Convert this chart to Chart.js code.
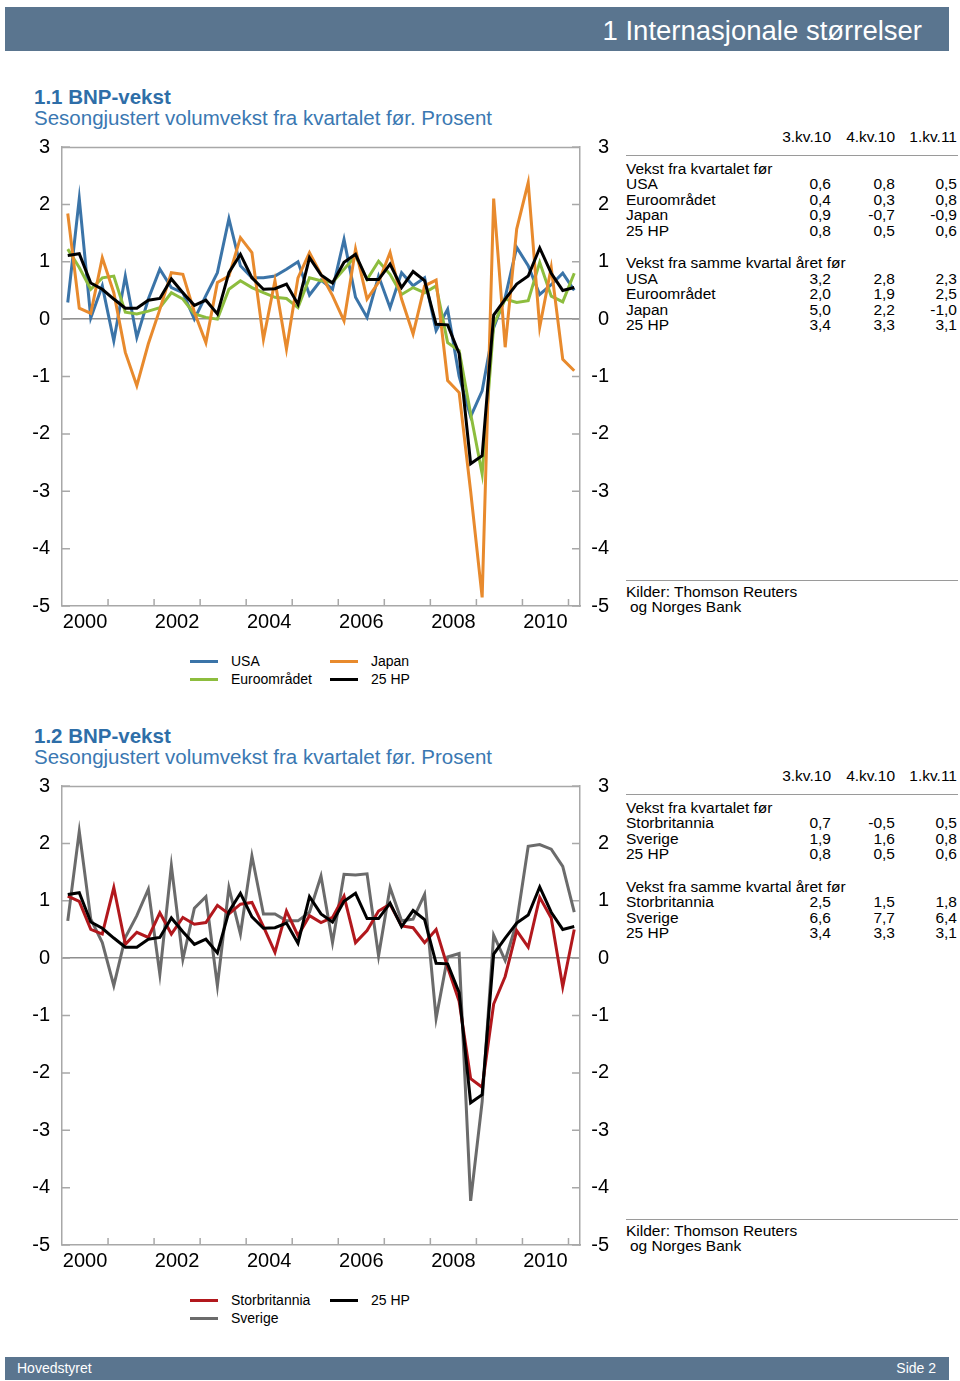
<!DOCTYPE html>
<html><head><meta charset="utf-8">
<script src="https://cdn.jsdelivr.net/npm/chart.js@4.4.1/dist/chart.umd.min.js"></script>
<style>
html,body{margin:0;padding:0}
body{width:960px;height:1381px;position:relative;background:#fff;font-family:"Liberation Sans",Arial,sans-serif;overflow:hidden}
.t{position:absolute;white-space:nowrap}
.bar{position:absolute;left:5px;width:944px;background:#5a758f}
canvas{position:absolute;left:0}
</style></head><body>
<div class="bar" style="top:7px;height:44px"></div>
<div class="bar" style="top:1357px;height:23px"></div>
<div id="layer"></div>
<canvas id="c1" width="620" height="510" style="top:130px"></canvas>
<canvas id="c2" width="620" height="510" style="top:769px"></canvas>
<script>
// ---------- data ----------
const quarters = ['2000K1','2000K2','2000K3','2000K4','2001K1','2001K2','2001K3','2001K4','2002K1','2002K2','2002K3','2002K4','2003K1','2003K2','2003K3','2003K4','2004K1','2004K2','2004K3','2004K4','2005K1','2005K2','2005K3','2005K4','2006K1','2006K2','2006K3','2006K4','2007K1','2007K2','2007K3','2007K4','2008K1','2008K2','2008K3','2008K4','2009K1','2009K2','2009K3','2009K4','2010K1','2010K2','2010K3','2010K4','2011K1'];
const yearLabels = ['2000','2002','2004','2006','2008','2010'];
const yTickValues = [-5,-4,-3,-2,-1,0,1,2,3];

const usa   = [0.29,2.1,0.02,0.58,-0.38,0.75,-0.32,0.35,0.87,0.55,0.46,0.0,0.41,0.81,1.75,0.93,0.72,0.72,0.75,0.87,1.0,0.42,0.68,0.52,1.39,0.38,0.03,0.75,0.2,0.81,0.58,0.72,-0.2,0.17,-1.0,-1.7,-1.25,-0.15,0.38,1.25,0.93,0.43,0.6,0.8,0.5];
const euro  = [1.22,0.9,0.52,0.72,0.75,0.12,0.09,0.14,0.2,0.46,0.35,0.09,0.03,0.0,0.52,0.67,0.55,0.46,0.38,0.36,0.2,0.72,0.67,0.64,0.87,1.1,0.69,1.01,0.78,0.43,0.55,0.46,0.58,-0.41,-0.55,-1.65,-2.7,-0.1,0.35,0.29,0.32,0.99,0.4,0.3,0.8];
const japan = [1.84,0.19,0.1,1.07,0.46,-0.58,-1.16,-0.43,0.17,0.81,0.78,0.12,-0.41,0.64,0.75,1.42,1.16,-0.35,0.67,-0.52,0.72,1.16,0.78,0.41,-0.03,1.22,0.35,0.64,1.16,0.35,-0.26,0.58,0.68,-1.07,-1.28,-3.0,-4.85,2.1,-0.49,1.57,2.38,-0.14,0.9,-0.7,-0.9];
const hp25  = [1.11,1.14,0.63,0.52,0.35,0.19,0.19,0.33,0.36,0.7,0.46,0.24,0.33,0.09,0.81,1.13,0.72,0.52,0.53,0.61,0.26,1.07,0.77,0.63,0.99,1.13,0.69,0.69,0.96,0.55,0.83,0.67,-0.09,-0.1,-0.6,-2.52,-2.38,0.07,0.35,0.61,0.75,1.24,0.8,0.5,0.55];
const uk    = [1.08,0.99,0.5,0.42,1.23,0.24,0.45,0.36,0.79,0.42,0.71,0.59,0.62,0.92,0.77,0.94,0.97,0.55,0.1,0.82,0.39,0.74,0.62,0.71,1.08,0.27,0.48,0.82,0.94,0.56,0.53,0.27,0.5,-0.16,-0.75,-2.1,-2.25,-0.8,-0.32,0.48,0.19,1.06,0.7,-0.5,0.5];
const sweden= [0.65,2.21,0.68,0.27,-0.48,0.36,0.74,1.2,-0.28,1.61,-0.02,0.87,1.07,-0.48,1.23,0.42,1.78,0.77,0.77,0.65,0.65,0.8,1.43,0.27,1.46,1.45,1.47,0.04,1.23,0.65,0.68,1.11,-1.05,0.02,0.08,-4.23,-2.5,0.4,-0.04,0.62,1.95,1.98,1.9,1.6,0.8];

const tableCols = ['3.kv.10','4.kv.10','1.kv.11'];
const t1Head1 = 'Vekst fra kvartalet før';
const t1Rows1 = [['USA','0,6','0,8','0,5'],['Euroområdet','0,4','0,3','0,8'],['Japan','0,9','-0,7','-0,9'],['25 HP','0,8','0,5','0,6']];
const t1Head2 = 'Vekst fra samme kvartal året før';
const t1Rows2 = [['USA','3,2','2,8','2,3'],['Euroområdet','2,0','1,9','2,5'],['Japan','5,0','2,2','-1,0'],['25 HP','3,4','3,3','3,1']];
const t2Rows1 = [['Storbritannia','0,7','-0,5','0,5'],['Sverige','1,9','1,6','0,8'],['25 HP','0,8','0,5','0,6']];
const t2Rows2 = [['Storbritannia','2,5','1,5','1,8'],['Sverige','6,6','7,7','6,4'],['25 HP','3,4','3,3','3,1']];

// ---------- styles ----------
const C = {usa:'#3b74a8', euro:'#8dbd3e', japan:'#e88a2d', hp:'#000000', uk:'#b2181d', swe:'#6b6b6b'};
const AXIS = '#a8a8a8', ZERO = '#8e8e8e';
const FONT = '"Liberation Sans", Arial, sans-serif';

// ---------- text layer ----------
const layer = document.getElementById('layer');
function put(text, x, cy, o = {}) {
  const d = document.createElement('div');
  d.className = 't';
  const fs = o.fs || 15.5, lh = Math.round(fs * 1.2);
  d.style.fontSize = fs + 'px';
  d.style.lineHeight = lh + 'px';
  d.style.top = (cy - lh / 2) + 'px';
  if (o.align === 'right') { d.style.left = (x - 600) + 'px'; d.style.width = '600px'; d.style.textAlign = 'right'; }
  else d.style.left = x + 'px';
  if (o.color) d.style.color = o.color;
  if (o.bold) d.style.fontWeight = 'bold';
  d.textContent = text;
  layer.appendChild(d);
}
function hline(x1, x2, y, color) {
  const d = document.createElement('div');
  d.style.cssText = `position:absolute;left:${x1}px;top:${y}px;width:${x2 - x1}px;height:1px;background:${color}`;
  layer.appendChild(d);
}
function swatch(x, cy, color) {
  const d = document.createElement('div');
  d.style.cssText = `position:absolute;left:${x}px;top:${cy - 1.5}px;width:28px;height:3px;background:${color}`;
  layer.appendChild(d);
}

put('1 Internasjonale størrelser', 922, 30, {fs: 27.5, align: 'right', color: '#fff'});
put('Hovedstyret', 17, 1368, {fs: 14, color: '#fff'});
put('Side 2', 936, 1368, {fs: 14, color: '#fff', align: 'right'});

function block(dy, num, rows1, rows2, legend) {
  put(num + ' BNP-vekst', 34, 96 + dy, {fs: 20.5, bold: true, color: '#2e6ea8'});
  put('Sesongjustert volumvekst fra kvartalet før. Prosent', 34, 117 + dy, {fs: 20.5, color: '#3a78b2'});
  const colX = [831, 895, 957];
  tableCols.forEach((c, i) => put(c, colX[i], 136.5 + dy, {align: 'right'}));
  hline(626, 958, 155 + dy, '#9a9a9a');
  let y = 168 + dy;
  put(t1Head1, 626, y); y += 15.5;
  rows1.forEach(r => { put(r[0], 626, y); r.slice(1).forEach((v, i) => put(v, colX[i], y, {align: 'right'})); y += 15.5; });
  y += 17.2;
  put(t1Head2, 626, y); y += 15.5;
  rows2.forEach(r => { put(r[0], 626, y); r.slice(1).forEach((v, i) => put(v, colX[i], y, {align: 'right'})); y += 15.5; });
  hline(626, 958, 580 + dy, '#9a9a9a');
  put('Kilder: Thomson Reuters', 626, 591 + dy);
  put('og Norges Bank', 630, 606.5 + dy);
  legend.forEach((l, i) => {
    const lx = i % 2 === 0 ? 190 : 330, ly = (i < 2 ? 661 : 679) + dy;
    swatch(lx, ly, l.color);
    put(l.label, lx + 41, ly, {fs: 14});
  });
}

// ---------- charts ----------
const yearBounds = [3.5,7.5,11.5,15.5,19.5,23.5,27.5,31.5,35.5,39.5,43.5];
const labelPos = yearLabels.map((y, i) => 1.5 + i * 8);

const frame = {
  id: 'frame',
  beforeDatasetsDraw(chart) {
    const {ctx, chartArea: a, scales} = chart;
    ctx.save();
    ctx.strokeStyle = AXIS; ctx.lineWidth = 1.5;
    ctx.beginPath();
    ctx.moveTo(a.left, a.top + 0.5); ctx.lineTo(a.right, a.top + 0.5);
    yTickValues.forEach(v => {
      const py = scales.y.getPixelForValue(v);
      ctx.moveTo(a.left, py); ctx.lineTo(a.left + 8, py);
      ctx.moveTo(a.right, py); ctx.lineTo(a.right - 8, py);
    });
    yearBounds.forEach(b => {
      const px = scales.x.getPixelForValue(b);
      ctx.moveTo(px, a.bottom); ctx.lineTo(px, a.bottom - 7);
    });
    ctx.stroke();
    ctx.restore();
  }
};

function noPad(s) { s.paddingTop = 0; s.paddingBottom = 0; s.paddingLeft = 0; s.paddingRight = 0; }

function makeChart(id, series) {
  const datasets = series.map(s => ({
    label: s.label,
    data: s.data.map((v, i) => ({x: i, y: v})),
    borderColor: s.color,
    borderWidth: 3,
    pointRadius: 0,
    tension: 0,
    fill: false,
    order: s.order
  }));
  const yCommon = {
    min: -5, max: 3,
    afterBuildTicks: s => { s.ticks = yTickValues.map(v => ({value: v})); },
    ticks: {color: '#000', font: {family: FONT, size: 20}},
    border: {color: AXIS, width: 1.5}
  };
  return new Chart(document.getElementById(id), {
    type: 'line',
    data: {labels: quarters, datasets},
    options: {
      responsive: false, animation: false,
      layout: {padding: {top: 17, left: 0, right: 11, bottom: 0}},
      plugins: {legend: {display: false}, tooltip: {enabled: false}},
      scales: {
        x: {
          type: 'linear', min: -0.5, max: 44.5,
          afterBuildTicks: s => { s.ticks = labelPos.map(v => ({value: v})); },
          afterFit: s => { s.height = 34; noPad(s); },
          ticks: {color: '#000', font: {family: FONT, size: 20}, padding: 4, maxRotation: 0, autoSkip: false,
                  callback: (v) => yearLabels[labelPos.indexOf(v)]},
          grid: {display: false, drawTicks: false},
          border: {color: AXIS, width: 1.5}
        },
        y: Object.assign({}, yCommon, {
          position: 'left',
          afterFit: s => { s.width = 62; noPad(s); },
          ticks: Object.assign({}, yCommon.ticks, {padding: 12}),
          grid: {drawTicks: false, lineWidth: 1.5, color: c => c.tick && c.tick.value === 0 ? ZERO : 'rgba(0,0,0,0)'}
        }),
        y2: Object.assign({}, yCommon, {
          position: 'right',
          afterFit: s => { s.width = 29; noPad(s); },
          ticks: Object.assign({}, yCommon.ticks, {padding: 11, crossAlign: 'far'}),
          grid: {display: false, drawTicks: false}
        })
      }
    },
    plugins: [frame]
  });
}

const s1 = [
  {label: 'USA', data: usa, color: C.usa, order: 3},
  {label: 'Japan', data: japan, color: C.japan, order: 1},
  {label: 'Euroområdet', data: euro, color: C.euro, order: 2},
  {label: '25 HP', data: hp25, color: C.hp, order: 0}
];
const s2 = [
  {label: 'Storbritannia', data: uk, color: C.uk, order: 1},
  {label: '25 HP', data: hp25, color: C.hp, order: 0},
  {label: 'Sverige', data: sweden, color: C.swe, order: 2}
];

block(0, '1.1', t1Rows1, t1Rows2, s1);
block(639, '1.2', t2Rows1, t2Rows2, s2);
makeChart('c1', s1);
makeChart('c2', s2);
</script>
</body></html>
